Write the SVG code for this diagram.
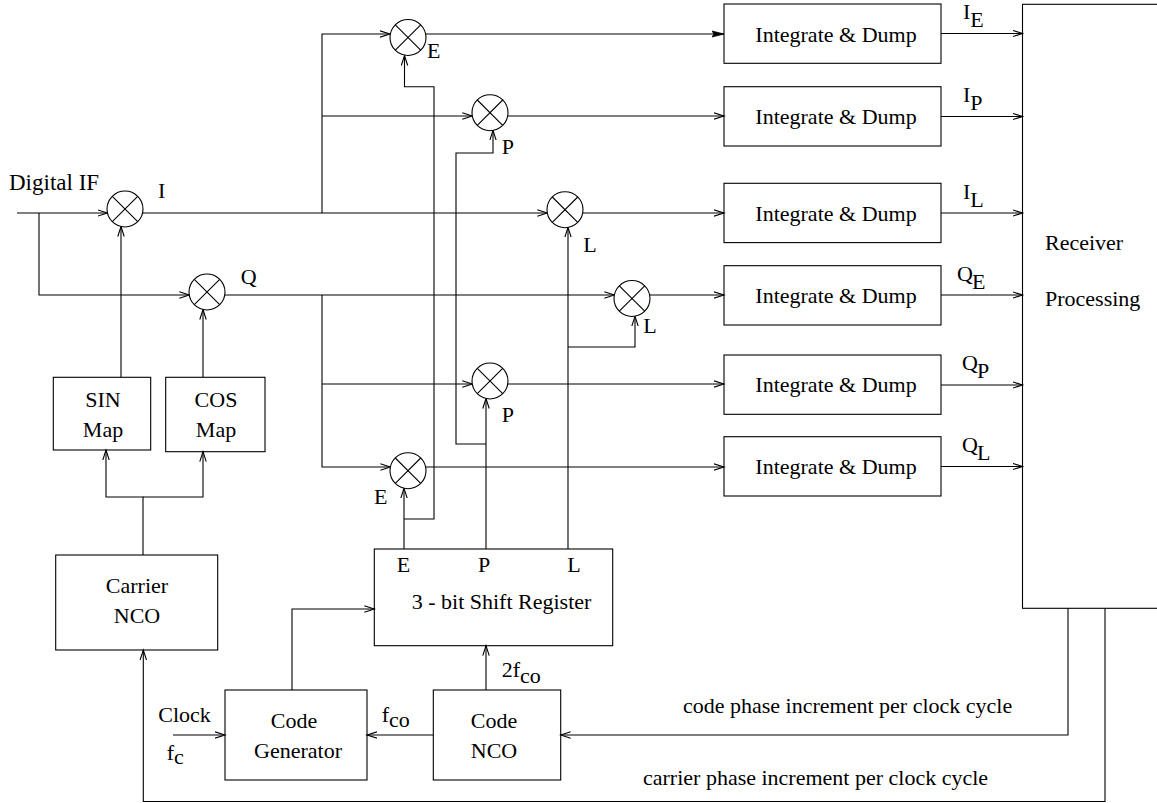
<svg xmlns="http://www.w3.org/2000/svg" width="1157" height="803" viewBox="0 0 1157 803">
<style>
  .box { fill: none; stroke: #000; stroke-width: 1.1; }
  .mix { fill: #fff; stroke: #000; stroke-width: 1.1; }
  .wire { fill: none; stroke: #000; stroke-width: 1.1; }
  .arr { marker-end: url(#open); }
  .farr { marker-end: url(#filled); }
  text { font-family: "Liberation Serif", "Times New Roman", serif; font-size: 22px; fill: #000; }
  .mid { text-anchor: middle; }
</style>
<defs>
  <marker id="open" markerUnits="userSpaceOnUse" markerWidth="12" markerHeight="10" refX="10" refY="4" orient="auto">
    <path d="M0,0.8 L10,4 L0,7.2" fill="none" stroke="#000" stroke-width="1.1"/>
  </marker>
  <marker id="filled" markerUnits="userSpaceOnUse" markerWidth="14" markerHeight="10" refX="12" refY="4" orient="auto">
    <path d="M0,1 L12,4 L0,7 L2,4 z" fill="#000" stroke="#000" stroke-width="0.8"/>
  </marker>
  <g id="mixer">
    <circle cx="0" cy="0" r="18" class="mix"/>
    <path d="M-12.7,-12.7 L12.7,12.7 M-12.7,12.7 L12.7,-12.7" class="wire"/>
  </g>
</defs>
<rect width="1157" height="803" fill="#fff"/>

<g id="connectors">
  <path class="wire arr" d="M17,213 H107.5"/>
  <path class="wire arr" d="M39,213 V295 H189.3"/>
  <path class="wire arr" d="M142.5,213 H547.3"/>
  <path class="wire arr" d="M224.7,295 H614.3"/>
  <path class="wire arr" d="M322,213 V34 H390"/>
  <path class="wire arr" d="M322,116 H472.3"/>
  <path class="wire arr" d="M322,295 V467 H390.4"/>
  <path class="wire arr" d="M322,384 H472.3"/>
  <path class="wire farr" d="M425.7,34 H724"/>
  <path class="wire arr" d="M507.7,116 H724"/>
  <path class="wire arr" d="M582.7,213 H724"/>
  <path class="wire arr" d="M649.7,295 H724"/>
  <path class="wire arr" d="M507.7,384 H724"/>
  <path class="wire arr" d="M425.6,467 H724"/>
  <path class="wire arr" d="M941,33.5 H1022.5"/>
  <path class="wire arr" d="M941,116.5 H1022.5"/>
  <path class="wire arr" d="M941,213 H1022.5"/>
  <path class="wire arr" d="M941,295 H1022.5"/>
  <path class="wire arr" d="M941,385 H1022.5"/>
  <path class="wire arr" d="M941,466.5 H1022.5"/>
  <path class="wire arr" d="M404,549 V488.2"/>
  <path class="wire arr" d="M404,519 H434 V86.7 H404.5 V55.5"/>
  <path class="wire arr" d="M486,549 V398.5"/>
  <path class="wire arr" d="M486,444 H456 V153 H493 V130.4"/>
  <path class="wire arr" d="M568,549 V227.4"/>
  <path class="wire arr" d="M568,347 H635 V316.2"/>
  <path class="wire arr" d="M121,377.3 V226.5"/>
  <path class="wire arr" d="M203,377.3 V309.5"/>
  <path class="wire arr" d="M143,555 V497 H106 V450"/>
  <path class="wire arr" d="M143,497 H203 V451.7"/>
  <path class="wire arr" d="M1068,608.3 V735 H560.7"/>
  <path class="wire arr" d="M1105,608.3 V801.5 H143.3 V650"/>
  <path class="wire arr" d="M433.3,735 H367"/>
  <path class="wire arr" d="M173,735 H225"/>
  <path class="wire arr" d="M292,690 V609 H374.3"/>
  <path class="wire arr" d="M486,690 V645.7"/>
</g>

<g id="mixer-E1"><use href="#mixer" x="408" y="37.5"/><text x="427" y="58">E</text></g>
<g id="mixer-P1"><use href="#mixer" x="490" y="112.7"/><text x="501.7" y="154">P</text></g>
<g id="mixer-I"><use href="#mixer" x="125" y="209"/><text x="158" y="198">I</text></g>
<g id="mixer-L1"><use href="#mixer" x="565" y="209.7"/><text x="583.3" y="251.7">L</text></g>
<g id="mixer-Q"><use href="#mixer" x="207" y="292"/><text x="240.7" y="284">Q</text></g>
<g id="mixer-L2"><use href="#mixer" x="632" y="298.5"/><text x="643.3" y="333">L</text></g>
<g id="mixer-P2"><use href="#mixer" x="490" y="381"/><text x="501.7" y="422">P</text></g>
<g id="mixer-E2"><use href="#mixer" x="408" y="470.7"/><text x="374" y="504">E</text></g>

<g id="input-label"><text x="9" y="190" style="font-size:23px">Digital IF</text></g>

<g id="id-IE"><rect class="box" x="724" y="4" width="217" height="59.3"/><text class="mid" x="836" y="41.5">Integrate &amp; Dump</text></g>
<g id="id-IP"><rect class="box" x="724" y="86.7" width="217" height="59.3"/><text class="mid" x="836" y="124">Integrate &amp; Dump</text></g>
<g id="id-IL"><rect class="box" x="724" y="183.3" width="217" height="59.3"/><text class="mid" x="836" y="220.5">Integrate &amp; Dump</text></g>
<g id="id-QE"><rect class="box" x="724" y="265.7" width="217" height="59.3"/><text class="mid" x="836" y="303">Integrate &amp; Dump</text></g>
<g id="id-QP"><rect class="box" x="724" y="355" width="217" height="59.3"/><text class="mid" x="836" y="392.3">Integrate &amp; Dump</text></g>
<g id="id-QL"><rect class="box" x="724" y="436.7" width="217" height="59.3"/><text class="mid" x="836" y="474">Integrate &amp; Dump</text></g>

<g id="out-labels">
  <text x="963" y="19">I<tspan dy="8">E</tspan></text>
  <text x="963" y="102">I<tspan dy="8">P</tspan></text>
  <text x="963" y="199">I<tspan dy="8">L</tspan></text>
  <text x="957" y="281">Q<tspan dx="-1" dy="8">E</tspan></text>
  <text x="962" y="370">Q<tspan dx="-1" dy="8">P</tspan></text>
  <text x="962" y="452">Q<tspan dx="-1" dy="8">L</tspan></text>
</g>

<g id="receiver"><rect class="box" x="1022.5" y="4.3" width="150" height="604"/><text x="1045" y="250">Receiver</text><text x="1045" y="306">Processing</text></g>

<g id="sin-map"><rect class="box" x="53.3" y="377.3" width="97.4" height="72.7"/><text class="mid" x="103" y="407">SIN</text><text class="mid" x="103" y="437">Map</text></g>
<g id="cos-map"><rect class="box" x="165.7" y="377.3" width="99.3" height="74.4"/><text class="mid" x="216" y="407">COS</text><text class="mid" x="216" y="437">Map</text></g>
<g id="carrier-nco"><rect class="box" x="55.7" y="555" width="162" height="95"/><text class="mid" x="137" y="593">Carrier</text><text class="mid" x="137" y="623">NCO</text></g>

<g id="shift-register"><rect class="box" x="374.3" y="549" width="238.4" height="96.7"/>
  <text class="mid" x="403.5" y="571.7">E</text><text class="mid" x="484" y="571.7">P</text><text class="mid" x="574" y="571.7">L</text>
  <text x="411.7" y="609">3 - bit Shift Register</text></g>

<g id="code-generator"><rect class="box" x="225" y="690" width="142" height="90"/><text class="mid" x="294" y="728">Code</text><text class="mid" x="298" y="758">Generator</text></g>
<g id="code-nco"><rect class="box" x="433.3" y="690" width="127.4" height="90"/><text class="mid" x="494" y="728">Code</text><text class="mid" x="494" y="758">NCO</text></g>

<g id="labels">
  <text x="501.7" y="677">2f<tspan dy="6">co</tspan></text>
  <text x="381.7" y="722">f<tspan dy="5">co</tspan></text>
  <text x="158.3" y="722">Clock</text>
  <text x="166.7" y="760">f<tspan dy="4">c</tspan></text>
  <text x="683" y="713">code phase increment per clock cycle</text>
  <text x="643" y="785">carrier phase increment per clock cycle</text>
</g>
</svg>
